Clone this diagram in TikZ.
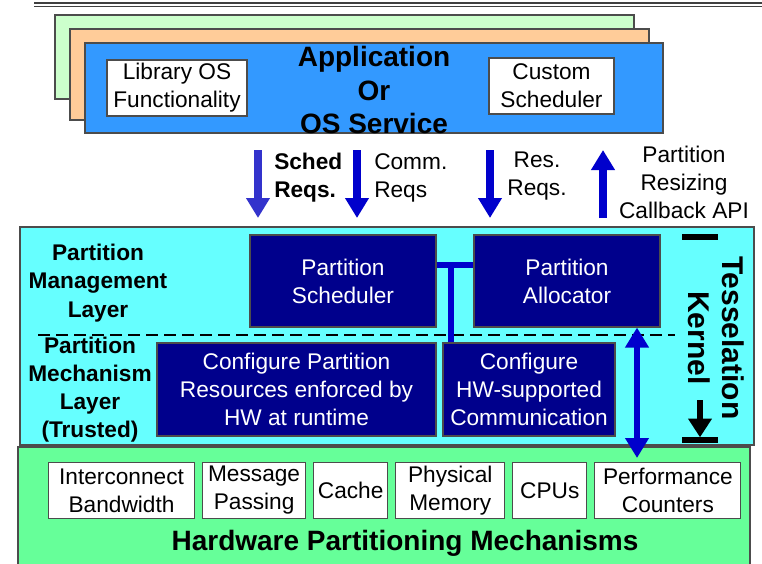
\documentclass[tikz,border=0pt]{standalone}
\usepackage{fontspec}
\setmainfont{Liberation Sans}
\usetikzlibrary{arrows.meta,positioning,fit}
\definecolor{PaleGreen}{RGB}{204,255,204}
\definecolor{SoftOrange}{RGB}{255,204,153}
\definecolor{AppBlue}{RGB}{51,153,255}
\definecolor{LayerCyan}{RGB}{102,255,255}
\definecolor{HwGreen}{RGB}{102,255,153}
\definecolor{DeepNavy}{RGB}{0,0,140}
\definecolor{ReqBlue}{RGB}{0,0,204}
\definecolor{SchedBlue}{RGB}{51,51,204}
\newcommand{\boxfont}{\fontsize{17}{21}\selectfont}
\newcommand{\bigfont}{\fontsize{21}{25}\selectfont\bfseries}

\begin{document}
\begin{tikzpicture}[x=0.75pt, y=-0.75pt, node distance=5.25pt,
  every node/.style={font=\boxfont, inner sep=0pt},
  pane/.style={draw=black!70, line width=0.8pt},
  whitebox/.style={pane, fill=white, align=center},
  navybox/.style={pane, fill=DeepNavy},
  navytext/.style={text=white, align=center},
  hwbox/.style={whitebox, minimum height=42pt},
  fatarrow/.style={line width=6pt, -{Triangle[width=17pt,length=15pt]}}]
\useasboundingbox (0,0) rectangle (762,563);

% top rule
\draw[line width=2pt, black!75] (34,3) -- (762,3);
\draw[line width=0.8pt, black!75] (34,6.5) -- (762,6.5);

% application stack
\node[pane, fill=PaleGreen, fit={(55,15) (634,99)}] (stackC) {};
\node[pane, fill=SoftOrange, fit={(70,29) (649,120)}] (stackB) {};
\node[pane, fill=AppBlue, fit={(85,43) (663,133)}] (app) {};
\node[font=\bigfont, align=center] (apptitle) at (374,90) {Application\\Or\\OS Service};
\node[whitebox, fit={(107,60) (247,116)}, label={[align=center]center:Library OS\\Functionality}] (libos) {};
\node[whitebox, fit={(489,58) (614,114)}, label={[align=center]center:Custom\\Scheduler}] (custsched) {};

% requests between app and kernel
\coordinate (schedA) at (258,150);
\coordinate (schedB) at (258,218);
\coordinate (commA) at (357,150);
\coordinate (commB) at (357,218);
\coordinate (resA) at (490,150);
\coordinate (resB) at (490,218);
\coordinate (resizeA) at (603,218);
\coordinate (resizeB) at (603,150);
\draw[fatarrow, SchedBlue] (schedA) -- (schedB);
\draw[fatarrow, ReqBlue] (commA) -- (commB);
\draw[fatarrow, ReqBlue] (resA) -- (resB);
\draw[fatarrow, ReqBlue] (resizeA) -- (resizeB);
\node[font={\boxfont\bfseries}, align=left, anchor=west] (schedlbl) at (274,178) {Sched\\Reqs.};
\node[align=left, anchor=west] (commlbl) at (374,178) {Comm.\\Reqs};
\node[align=center] (reslbl) at (537,176) {Res.\\Reqs.};
\node[align=center] (resizelbl) at (684,182) {Partition\\Resizing\\Callback API};

% kernel layers
\node[pane, fill=LayerCyan, fit={(20,227) (754,445)}] (kernel) {};
\node[pane, fill=HwGreen, fit={(18,447) (750,568)}] (hw) {};
\node[font={\fontsize{17}{21.5}\selectfont\bfseries}, align=center] (mgmtlbl) at (98,283) {Partition\\Management\\Layer};
\node[font={\fontsize{17}{21}\selectfont\bfseries}, align=center] (mechlbl) at (90,390) {Partition\\Mechanism\\Layer\\(Trusted)};
\draw[line width=1.5pt, dash pattern=on 9pt off 4.5pt] (38,335) -- (675,335);

\node[navybox, fit={(250,235) (436,327)}, label={[navytext]center:Partition\\Scheduler}] (psched) {};
\node[navybox, fit={(474,235) (660,327)}, label={[navytext]center:Partition\\Allocator}] (palloc) {};
\node[navybox, fit={(157,343) (436,436)}, label={[navytext]center:Configure Partition\\Resources enforced by\\HW at runtime}] (cfgpart) {};
\node[navybox, fit={(443,343) (615,436)}, label={[navytext]center:Configure\\HW-supported\\Communication}] (cfghw) {};

% T link
\coordinate (tbar) at (451,265);
\draw[ReqBlue, line width=5pt] (psched.east |- tbar) -- (palloc.west |- tbar);
\draw[ReqBlue, line width=5pt] (tbar) -- (cfghw.north -| tbar);

% hardware resources
\node[hwbox, minimum width=109.5pt, anchor=north west] (icbw) at (48,462) {Interconnect\\Bandwidth};
\node[hwbox, minimum width=77.25pt, right=of icbw] (msgpass) {Message\\Passing};
\node[hwbox, minimum width=55.5pt, right=of msgpass] (cache) {Cache};
\node[hwbox, minimum width=81.75pt, right=of cache] (physmem) {Physical\\Memory};
\node[hwbox, minimum width=55.5pt, right=of physmem] (cpus) {CPUs};
\node[hwbox, minimum width=109.5pt, right=of cpus] (perfctr) {Performance\\Counters};
\node[font=\bigfont] (hwtitle) at (405,543) {Hardware Partitioning Mechanisms};

% allocator <-> counters
\coordinate (ctrx) at (637,0);
\draw[ReqBlue, line width=5pt, {Triangle[width=17pt,length=15pt]}-{Triangle[width=17pt,length=15pt]}]
  (palloc.south -| ctrx) -- ([yshift=3pt]perfctr.north -| ctrx);

% kernel bracket
\node[font={\fontsize{22.5}{25.5}\selectfont\bfseries}, rotate=-90, align=center] (tkernel) at (716,338) {Tesselation\\Kernel};
\coordinate (kTop) at (700,237);
\coordinate (kArr) at (700,400);
\coordinate (kBot) at (700,440);
\draw[line width=4.5pt] ([xshift=-13.5pt]kTop) -- ([xshift=13.5pt]kTop);
\draw[line width=4.5pt] ([xshift=-13.5pt]kBot) -- ([xshift=13.5pt]kBot);
\draw[line width=4.5pt, -{Triangle[width=17pt,length=14pt]}] (kArr) -- ([yshift=2pt]kBot);
\end{tikzpicture}
\end{document}
